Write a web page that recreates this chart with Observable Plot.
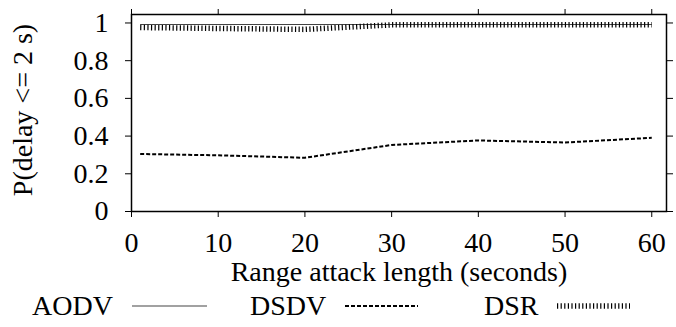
<!DOCTYPE html>
<html>
<head>
<meta charset="utf-8">
<script src="https://cdn.jsdelivr.net/npm/d3@7"></script>
<script src="https://cdn.jsdelivr.net/npm/@observablehq/plot@0.6"></script>
<style>
  html, body { margin: 0; padding: 0; background: #fff; }
  #chart { width: 676px; height: 285px; }
  #chart svg, #chart svg text { font-family: "Liberation Serif", "Times New Roman", serif !important; }
  .legend { position: relative; width: 676px; height: 42px; font-family: "Liberation Serif", "Times New Roman", serif; font-size: 28px; color: #000; }
  .legend span { position: absolute; top: 7px; line-height: 28px; }
  .legend svg { position: absolute; top: 13px; }
</style>
</head>
<body>
<div id="chart"></div>
<script>
const lengths = [1, 10, 20, 30, 40, 50, 60];
const aodv = [0.992, 0.992, 0.992, 0.992, 0.992, 0.992, 0.992];
const dsdv = [0.305, 0.298, 0.285, 0.353, 0.377, 0.366, 0.391];
const dsr = [0.976, 0.971, 0.966, 0.99, 0.99, 0.99, 0.99];
const xTicks = [0, 10, 20, 30, 40, 50, 60];
const yTicks = [0, 0.2, 0.4, 0.6, 0.8, 1];
const seriesNames = ["AODV", "DSDV", "DSR"];

const rows = (vals) => lengths.map((x, i) => ({x, y: vals[i]}));
const styles = {
  AODV: {stroke: "#444", strokeWidth: 1.2},
  DSDV: {stroke: "#000", strokeWidth: 2, strokeDasharray: "4,2"},
  DSR: {stroke: "#000", strokeWidth: 5.5, strokeDasharray: "1.2,2.4"}
};
const seriesData = {AODV: aodv, DSDV: dsdv, DSR: dsr};

const plot = Plot.plot({
  width: 676,
  height: 285,
  marginLeft: 131,
  marginRight: 10,
  marginTop: 14,
  marginBottom: 74,
  style: {fontFamily: "Liberation Serif", fontSize: "28px", color: "#000", background: "#fff", overflow: "visible"},
  x: {domain: [0, 61.7]},
  y: {domain: [0, 1.045]},
  marks: [
    Plot.axisX({ticks: xTicks, tickSize: 6, tickPadding: 15, label: null, tickFormat: d => String(d)}),
    Plot.axisX({anchor: "top", ticks: xTicks, tickSize: 6, text: null, label: null}),
    Plot.axisY({ticks: yTicks, tickSize: 6, tickPadding: 17, label: null, tickFormat: d => String(d)}),
    Plot.axisY({anchor: "right", ticks: yTicks, tickSize: 6, text: null, label: null}),
    ...seriesNames.map(name => Plot.line(rows(seriesData[name]), {x: "x", y: "y", strokeLinecap: "butt", strokeLinejoin: "miter", ...styles[name]})),
    Plot.frame({stroke: "#000", strokeWidth: 1.5}),
    Plot.text(["Range attack length (seconds)"], {frameAnchor: "bottom", dy: 69, lineAnchor: "bottom", textAnchor: "middle", fontSize: 28}),
    Plot.text(["P(delay <= 2 s)"], {frameAnchor: "left", dx: -100, dy: -3, rotate: -90, lineAnchor: "bottom", textAnchor: "middle", fontSize: 28})
  ]
});
document.getElementById("chart").appendChild(plot);

// legend
const legend = document.createElement("div");
legend.className = "legend";
const legendPos = {AODV: [32, 132, 207], DSDV: [250, 345, 418], DSR: [484, 557, 630]};
for (const name of seriesNames) {
  const [tx, sx0, sx1] = legendPos[name];
  const s = document.createElement("span");
  s.textContent = name;
  s.style.left = tx + "px";
  legend.appendChild(s);
  const st = styles[name];
  const w = sx1 - sx0;
  const svg = d3.create("svg").attr("width", w).attr("height", 16).style("left", sx0 + "px");
  svg.append("line").attr("x1", 0).attr("x2", w).attr("y1", 8).attr("y2", 8)
    .attr("stroke", st.stroke).attr("stroke-width", st.strokeWidth)
    .attr("stroke-dasharray", st.strokeDasharray || null);
  legend.appendChild(svg.node());
}
document.body.appendChild(legend);
</script>
</body>
</html>
